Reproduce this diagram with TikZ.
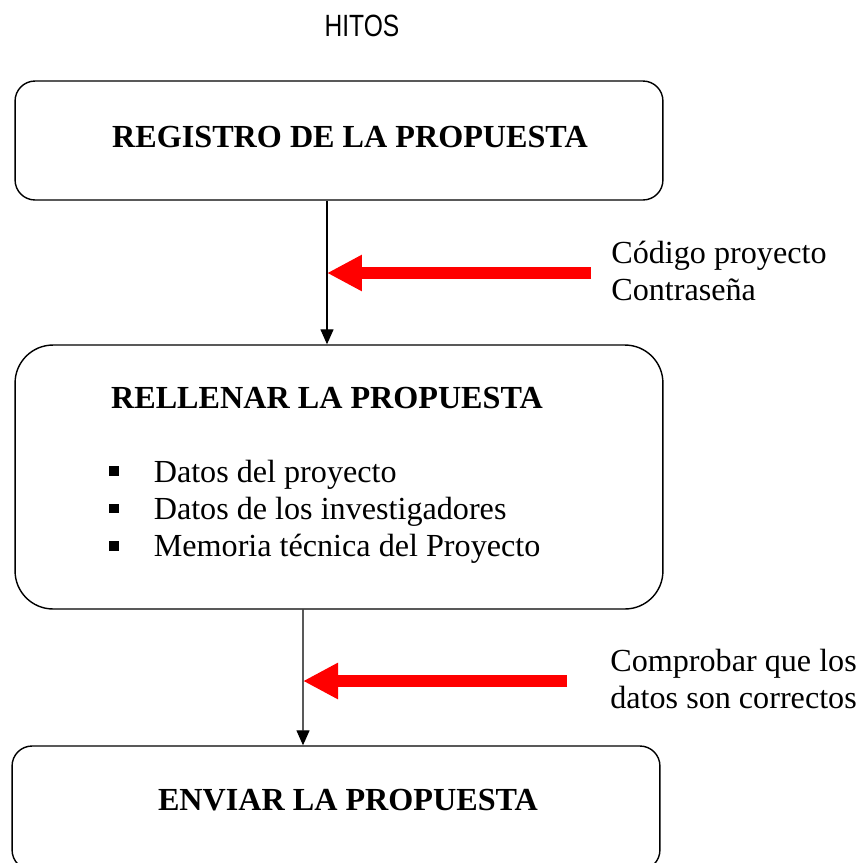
\documentclass[tikz,border=0pt]{standalone}
\usepackage{fontspec}
\setmainfont{Liberation Serif}
\newfontfamily\hitosfont[FakeStretch=0.8]{Liberation Sans}
\usetikzlibrary{arrows.meta}
\tikzset{
  hito/.style={draw, line width=0.8pt, rounded corners=0.4cm, minimum width=12.96cm, inner sep=0},
  conector/.style={line width=0.7pt, -{Triangle[length=0.3cm,width=0.26cm]}},
  entrada/.style={color=red, line width=0.24cm, -{Triangle[length=0.7cm,width=0.68cm]}},
  titulo/.style={font=\fontsize{18.3}{21}\selectfont\bfseries, inner sep=0},
  texto/.style={font=\fontsize{18.3}{21.3}\selectfont, inner sep=0, anchor=base west}
}
\newcommand{\vineta}{\rule[3.6pt]{5.3pt}{5.3pt}}

\begin{document}
\begin{tikzpicture}[x=0.02cm, y=-0.02cm]
    \useasboundingbox (0,0) rectangle (858,863);

    \node[inner sep=0, anchor=base, font=\hitosfont\fontsize{17.5}{20}\selectfont] at (362,36) (hitos) {HITOS};

    \node[hito, minimum height=2.38cm] at (339,140.5) (registro) {};
    \node[hito, minimum height=5.28cm, rounded corners=0.76cm] at (339,477) (rellenar) {};
    \node[hito, minimum height=2.48cm] at (336,808) (enviar) {};

    \node[titulo] at (350,137) (registroT) {REGISTRO DE LA PROPUESTA};
    \node[titulo] at (327,398) (rellenarT) {RELLENAR LA PROPUESTA};
    \node[titulo] at (348,800) (enviarT)   {ENVIAR LA PROPUESTA};

    \node[texto] at (109,482) (datos) {\begin{tabular}[t]{@{}l@{\hspace{20pt}}l@{}}
        \vineta & Datos del proyecto\\
        \vineta & Datos de los investigadores\\
        \vineta & Memoria técnica del Proyecto
    \end{tabular}};

    \node[texto] at (611,263) (claves) {\begin{tabular}[t]{@{}l@{}}Código proyecto\\Contraseña\end{tabular}};
    \node[texto] at (610,671) (comprobar) {\begin{tabular}[t]{@{}l@{}}Comprobar que los\\datos son correctos\end{tabular}};

    \coordinate (origen1) at (591,273);
    \coordinate (origen2) at (567,681);

    \draw[conector] ([xshift=-0.24cm]registro.south) -- coordinate[pos=0.5] (cruce1) ([xshift=-0.24cm]rellenar.north);
    \draw[conector] ([xshift=-0.72cm]rellenar.south) -- coordinate[pos=0.525] (cruce2) ([xshift=-0.66cm]enviar.north);

    \draw[entrada] (origen1) -- (cruce1 |- origen1);
    \draw[entrada] (origen2) -- (cruce2 |- origen2);
\end{tikzpicture}
\end{document}
